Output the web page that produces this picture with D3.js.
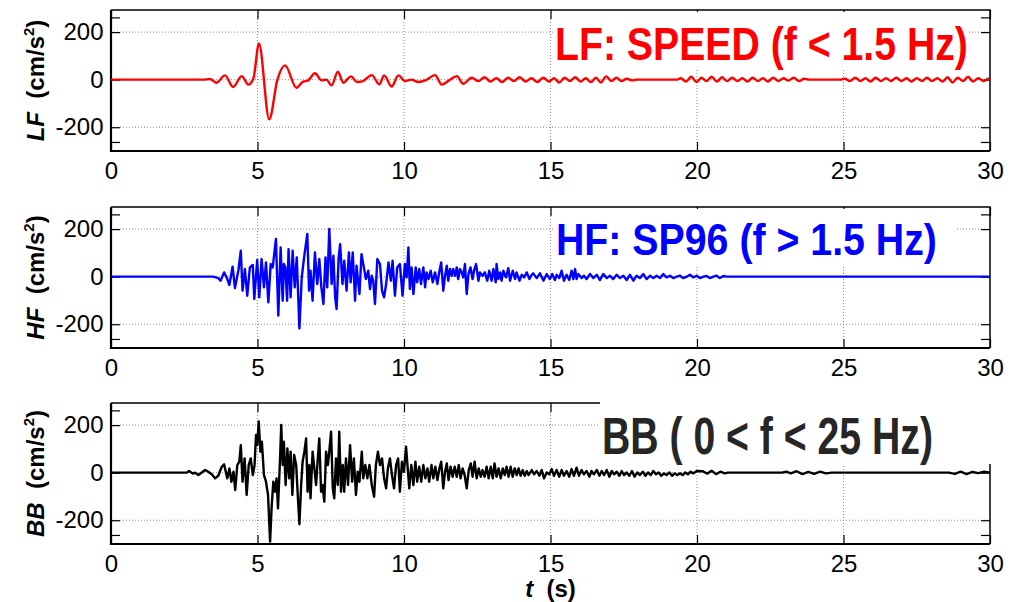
<!DOCTYPE html>
<html>
<head>
<meta charset="utf-8">
<script src="https://cdn.jsdelivr.net/npm/d3@7"></script>
<style>
  html, body { margin: 0; padding: 0; background: #fff; }
  svg { display: block; font-family: "Liberation Sans", Arial, sans-serif; }
  .lbl { white-space: pre; }
</style>
</head>
<body>
<svg id="chart" width="1016" height="602"></svg>
<script>
// ---- axis ticks ----
const xTicks = [0, 5, 10, 15, 20, 25, 30];
const yTicks = [-200, 0, 200];
const yEdgeTicks = [-262, 262];   // unlabelled ticks near the axis limits
const yDomain = [-300, 293];

// ---- panel labels ----
const panelKeys = ["LF", "HF", "BB"];
const panelTitles = ["LF: SPEED (f < 1.5 Hz)", "HF: SP96 (f > 1.5 Hz)", "BB ( 0 < f < 25 Hz)"];
const axisUnit = "(cm/s";
const xLabelUnit = "(s)";

// ---- acceleration traces: [time (s), acceleration (cm/s^2)] ----
const lfTrace = [
  [0,0],[3.15,0],[3.38,3],[3.6,-13],[3.89,18],[4.17,-31],[4.46,15],[4.69,-21],[4.86,5],
  [5.05,152],[5.4,-167],[5.68,0],[5.94,60],[6.33,-34],[6.56,-8],[6.72,-4],[6.96,27],[7.19,-3],
  [7.35,0],[7.53,-24],[7.74,34],[7.93,-13],[8.19,14],[8.39,-10],[8.6,-6],[8.9,19],[9.16,-20],
  [9.32,18],[9.58,-29],[9.81,18],[10.03,-6],[10.25,0],[10.49,-10],[10.75,-2],[11.06,19],
  [11.29,-21],[11.55,-2],[11.8,15],[12.02,-17],[12.31,8],[12.54,-6],[12.75,10],[12.95,-8],
  [13.15,6],[13.35,-10],[13.55,8],[13.75,-6],[13.95,10],[14.15,-8],[14.35,6],[14.55,-10],
  [14.75,8],[14.95,-8],[15.12,6],[15.3,-12],[15.48,8],[15.66,-6],[15.85,10],[16.03,-8],
  [16.2,6],[16.38,-10],[16.55,8],[16.72,-12],[16.9,14],[17.08,-6],[17.25,8],[17.42,-6],
  [17.6,4],[17.8,-3],[17.95,0],[19.3,0],[19.45,6],[19.62,-8],[19.8,12],[19.98,-10],[20.15,8],
  [20.32,-6],[20.5,12],[20.68,-8],[20.85,10],[21.03,-6],[21.2,8],[21.38,-6],[21.55,6],
  [21.72,-8],[21.9,8],[22.08,-6],[22.25,6],[22.42,-8],[22.6,8],[22.78,-6],[22.95,6],
  [23.12,-4],[23.3,8],[23.48,-6],[23.65,4],[23.82,0],[24.9,0],[25.05,4],[25.22,-6],[25.4,8],
  [25.58,-6],[25.75,6],[25.92,-8],[26.1,8],[26.28,-6],[26.45,6],[26.62,-6],[26.8,8],
  [26.98,-6],[27.15,6],[27.32,-8],[27.5,6],[27.68,-6],[27.85,8],[28.02,-6],[28.2,6],
  [28.38,-8],[28.55,10],[28.72,-12],[28.9,8],[29.08,-6],[29.25,12],[29.42,-8],[29.6,6],
  [29.78,-6],[29.95,4],[30,0]
];

const hfTrace = [
  [0,0],[3.49,0],[3.66,-6],[3.74,-17],[3.86,18],[3.97,-10],[4.04,-35],[4.15,42],[4.23,-48],
  [4.35,28],[4.43,109],[4.49,-59],[4.57,32],[4.65,-80],[4.74,39],[4.84,49],[4.89,-94],
  [4.99,70],[5.06,-87],[5.14,74],[5.22,-45],[5.29,60],[5.37,-108],[5.45,53],[5.52,39],
  [5.63,159],[5.71,-164],[5.79,123],[5.86,-101],[5.9,53],[5.95,39],[6.01,-101],[6.06,116],
  [6.13,-87],[6.2,109],[6.27,-45],[6.34,81],[6.43,-218],[6.51,-3],[6.59,81],[6.7,180],
  [6.76,-59],[6.81,25],[6.88,-101],[6.96,102],[7.04,-31],[7.11,74],[7.18,-45],[7.25,-115],
  [7.32,81],[7.38,-45],[7.45,201],[7.53,-31],[7.59,88],[7.65,-87],[7.7,-136],[7.77,81],
  [7.82,137],[7.9,-31],[7.96,67],[8.04,-59],[8.12,102],[8.18,-24],[8.25,102],[8.33,-101],
  [8.38,46],[8.48,-73],[8.55,95],[8.63,39],[8.7,-10],[8.78,25],[8.84,-52],[8.9,4],[8.95,-17],
  [9.01,-115],[9.09,74],[9.18,53],[9.25,-59],[9.32,-87],[9.39,-31],[9.47,60],[9.55,-17],
  [9.61,67],[9.69,-80],[9.77,39],[9.86,53],[9.95,-80],[10.03,53],[10.09,-3],[10.15,123],
  [10.2,-52],[10.26,39],[10.32,-73],[10.4,39],[10.45,-24],[10.52,32],[10.58,-31],[10.66,39],
  [10.72,-45],[10.77,18],[10.84,-10],[10.91,25],[10.98,-24],[11.06,18],[11.14,-31],[11.21,25],
  [11.27,60],[11.34,-59],[11.4,4],[11.46,46],[11.51,-17],[11.57,32],[11.63,4],[11.68,32],
  [11.74,4],[11.8,39],[11.85,-10],[11.91,32],[11.97,18],[12.02,-3],[12.08,53],[12.14,-73],
  [12.2,11],[12.27,39],[12.34,-10],[12.39,25],[12.46,53],[12.54,-17],[12.59,18],[12.68,4],
  [12.76,18],[12.84,-17],[12.91,25],[12.99,-17],[13.05,32],[13.13,-24],[13.16,53],[13.22,-10],
  [13.28,18],[13.33,-17],[13.39,25],[13.48,-3],[13.56,36],[13.62,-17],[13.71,25],[13.79,-10],
  [13.84,18],[13.94,-17],[14.02,8],[14.1,-3],[14.19,18],[14.28,-10],[14.36,8],[14.41,14],
  [14.53,-6],[14.64,14],[14.76,-17],[14.87,11],[14.98,-10],[15.06,11],[15.15,-14],[15.21,8],
  [15.3,-6],[15.38,25],[15.46,-17],[15.55,8],[15.64,-14],[15.72,25],[15.78,-10],[15.84,32],
  [15.89,-10],[15.95,11],[16.06,-6],[16.14,4],[16.23,-10],[16.35,11],[16.46,-6],[16.58,8],
  [16.69,-14],[16.8,11],[16.92,-6],[17.03,4],[17.14,-10],[17.26,8],[17.37,-6],[17.49,4],
  [17.6,-14],[17.71,8],[17.83,-17],[17.94,4],[18.05,-6],[18.17,11],[18.28,-10],[18.4,4],
  [18.51,-6],[18.62,4],[18.74,-6],[18.85,11],[18.96,-3],[19.08,4],[19.19,-6],[19.31,0],
  [19.42,4],[19.53,-6],[19.65,0],[19.76,8],[19.87,-3],[19.99,4],[20.1,-6],[20.22,0],
  [20.33,3],[20.44,-6],[20.56,0],[20.67,4],[20.78,-6],[20.9,3],[21.01,0],[30,0]
];

const bbTrace = [
  [0,0],[2.58,0],[2.67,7],[2.79,-4],[2.87,0],[2.98,-10],[3.1,1],[3.21,11],[3.32,4],[3.44,-7],
  [3.55,-24],[3.66,-13],[3.78,25],[3.86,35],[3.93,-3],[3.97,-24],[4.04,18],[4.11,-38],[4.18,4],
  [4.24,-73],[4.31,32],[4.38,46],[4.43,116],[4.49,-38],[4.56,60],[4.63,-94],[4.7,32],[4.77,60],
  [4.84,-10],[4.9,32],[4.95,159],[4.99,116],[5.04,215],[5.1,88],[5.15,130],[5.22,-10],
  [5.29,-38],[5.36,-94],[5.43,-290],[5.48,-150],[5.54,-38],[5.6,-80],[5.65,-24],[5.7,-150],
  [5.77,60],[5.81,201],[5.86,32],[5.9,130],[5.96,-52],[6.02,102],[6.08,-24],[6.13,88],
  [6.19,-94],[6.25,74],[6.32,32],[6.38,-108],[6.43,-217],[6.49,-52],[6.54,46],[6.6,88],
  [6.66,144],[6.71,-80],[6.77,32],[6.81,-108],[6.88,88],[6.94,18],[7.0,-52],[7.05,46],
  [7.11,144],[7.17,-80],[7.22,-52],[7.28,-122],[7.34,88],[7.4,32],[7.45,88],[7.51,172],
  [7.57,-66],[7.62,-108],[7.68,60],[7.74,-52],[7.79,172],[7.85,-80],[7.91,32],[7.96,-80],
  [8.02,60],[8.09,-52],[8.16,116],[8.23,-38],[8.29,60],[8.36,-94],[8.42,4],[8.48,-38],
  [8.56,88],[8.61,-24],[8.68,32],[8.75,-24],[8.82,32],[8.9,-52],[8.98,-101],[9.04,32],
  [9.11,88],[9.18,32],[9.25,60],[9.32,-24],[9.39,-66],[9.45,18],[9.52,60],[9.59,-10],
  [9.66,-66],[9.73,32],[9.8,60],[9.86,-80],[9.93,46],[10.0,4],[10.07,109],[10.18,-66],
  [10.25,32],[10.32,-52],[10.39,46],[10.45,-38],[10.52,25],[10.59,-38],[10.66,32],[10.73,-24],
  [10.8,18],[10.86,-38],[10.94,32],[11.0,-24],[11.07,25],[11.14,-31],[11.21,18],[11.27,46],
  [11.34,-66],[11.4,4],[11.46,39],[11.52,-31],[11.59,25],[11.66,-17],[11.73,25],[11.8,-17],
  [11.87,32],[11.93,-24],[12.0,18],[12.07,-10],[12.14,-66],[12.21,11],[12.28,39],[12.34,-17],
  [12.41,46],[12.48,-24],[12.55,18],[12.62,-17],[12.68,11],[12.75,-17],[12.82,25],[12.89,-24],
  [12.96,25],[13.03,-24],[13.09,39],[13.16,-17],[13.23,18],[13.3,-24],[13.37,18],[13.44,-10],
  [13.5,25],[13.57,-17],[13.64,25],[13.71,-17],[13.78,18],[13.85,-10],[13.91,18],[13.98,-13],
  [14.05,11],[14.12,-13],[14.19,7],[14.25,-10],[14.36,11],[14.44,-7],[14.53,7],[14.62,-13],
  [14.7,11],[14.78,-24],[14.87,1],[14.96,-7],[15.04,15],[15.12,-13],[15.21,11],[15.3,-17],
  [15.38,11],[15.46,-13],[15.55,7],[15.64,-17],[15.72,15],[15.8,-13],[15.89,21],[15.97,-13],
  [16.06,11],[16.14,-7],[16.23,7],[16.33,-17],[16.4,7],[16.48,-7],[16.58,11],[16.67,-13],
  [16.75,7],[16.83,-10],[16.92,11],[17.01,-17],[17.09,7],[17.17,-7],[17.26,4],[17.35,-13],
  [17.43,7],[17.51,-10],[17.6,1],[17.69,-13],[17.78,7],[17.87,-17],[17.96,1],[18.05,-10],
  [18.15,4],[18.24,-13],[18.33,1],[18.42,-10],[18.51,7],[18.6,-7],[18.69,1],[18.78,-13],
  [18.87,-3],[18.96,-10],[19.06,1],[19.15,-13],[19.24,-3],[19.33,-10],[19.42,-3],[19.51,-10],
  [19.6,1],[19.69,-7],[19.78,4],[19.87,-3],[19.99,7],[20.2,6],[20.35,-4],[20.5,8],[20.65,-6],
  [20.8,4],[20.95,-3],[21.05,0],[22.9,0],[23.05,4],[23.2,-3],[23.4,6],[23.6,-6],[23.8,3],
  [24.0,-5],[24.2,4],[24.4,-3],[24.6,0],[28.6,0],[28.8,-5],[29.0,4],[29.2,-6],[29.4,3],
  [29.6,-2],[29.8,4],[30,0]
];

const traces = [lfTrace, hfTrace, bbTrace];

// ---- layout ----
const plotLeft = 111, plotRight = 990;
const panelTops = [10, 207, 403];
const panelH = 141;
const tickLen = 9;

const panelStyle = [
  { color: "#ff0000", curve: d3.curveMonotoneX, titleColor: "#ff0000",
    box: [553, 12, 968, 70], titleX: 555, titleBase: 60, titleLen: 413, titleSize: 46 },
  { color: "#0000ff", curve: d3.curveLinear, titleColor: "#0000ff",
    box: [555, 209, 957, 265], titleX: 556, titleBase: 255, titleLen: 381, titleSize: 45 },
  { color: "#000000", curve: d3.curveLinear, titleColor: "#262626",
    box: [600, 394, 1002, 464], titleX: 602, titleBase: 454, titleLen: 331, titleSize: 52 }
];

const svg = d3.select("#chart");
const x = d3.scaleLinear().domain([0, 30]).range([plotLeft, plotRight]);

svg.append("defs").selectAll("clipPath")
  .data(panelTops).join("clipPath")
  .attr("id", (d, i) => "clip" + i)
  .append("rect")
  .attr("x", plotLeft).attr("y", d => d)
  .attr("width", plotRight - plotLeft).attr("height", panelH);

panelTops.forEach((top, i) => {
  const st = panelStyle[i];
  const bottom = top + panelH;
  const y = d3.scaleLinear().domain(yDomain).range([bottom, top]);
  const g = svg.append("g");

  // dotted grid
  const grid = g.append("g").attr("stroke", "#8c8c8c").attr("stroke-width", 1)
    .attr("stroke-dasharray", "1,2");
  grid.selectAll("line.gx").data(xTicks.slice(1, -1)).join("line")
    .attr("x1", d => x(d)).attr("x2", d => x(d))
    .attr("y1", top).attr("y2", bottom);
  grid.selectAll("line.gy").data(yTicks).join("line")
    .attr("x1", plotLeft).attr("x2", plotRight)
    .attr("y1", d => y(d)).attr("y2", d => y(d));

  // axes with inward ticks
  const fmtY = d => (yTicks.includes(d) ? String(d) : "");
  const axB = g.append("g").attr("transform", `translate(0,${bottom})`)
    .call(d3.axisBottom(x).tickValues(xTicks).tickSizeInner(-tickLen).tickSizeOuter(0).tickPadding(10.5));
  const axT = g.append("g").attr("transform", `translate(0,${top})`)
    .call(d3.axisTop(x).tickValues(xTicks).tickSizeInner(-tickLen).tickSizeOuter(0).tickFormat(""));
  const axL = g.append("g").attr("transform", `translate(${plotLeft},0)`)
    .call(d3.axisLeft(y).tickValues(yTicks.concat(yEdgeTicks)).tickSizeInner(-tickLen).tickSizeOuter(0)
      .tickPadding(7.5).tickFormat(fmtY));
  const axR = g.append("g").attr("transform", `translate(${plotRight},0)`)
    .call(d3.axisRight(y).tickValues(yTicks.concat(yEdgeTicks)).tickSizeInner(-tickLen).tickSizeOuter(0)
      .tickFormat(""));
  [axB, axT, axL, axR].forEach(a => {
    a.select(".domain").remove();
    a.selectAll("line").attr("stroke", "#000").attr("stroke-width", 1.2);
    a.selectAll("text").attr("font-size", 24).attr("fill", "#000")
      .attr("font-family", "'Liberation Sans', Arial, sans-serif");
  });

  // frame
  g.append("path")
    .attr("d", `M${plotLeft},${top}H${plotRight}V${bottom}`)
    .attr("fill", "none").attr("stroke", "#000").attr("stroke-width", 1.5);
  g.append("path")
    .attr("d", `M${plotLeft},${top}V${bottom}H${plotRight}`)
    .attr("fill", "none").attr("stroke", "#000").attr("stroke-width", 2.2);

  // trace
  const line = d3.line().x(d => x(d[0])).y(d => y(d[1])).curve(st.curve);
  g.append("path")
    .datum(traces[i])
    .attr("clip-path", `url(#clip${i})`)
    .attr("d", line)
    .attr("fill", "none")
    .attr("stroke", st.color)
    .attr("stroke-width", 2.4)
    .attr("stroke-linejoin", "round")
    .attr("stroke-linecap", "round");

  // panel title on a white backing, squeezed horizontally to a condensed face
  const [bx0, by0, bx1, by1] = st.box;
  g.append("rect").attr("x", bx0).attr("y", by0)
    .attr("width", bx1 - bx0).attr("height", by1 - by0).attr("fill", "#fff");
  const title = g.append("text")
    .attr("class", "lbl")
    .attr("x", 0).attr("y", 0)
    .attr("font-size", st.titleSize).attr("font-weight", "bold")
    .attr("font-family", "'Liberation Sans', Arial, sans-serif")
    .attr("fill", st.titleColor)
    .text(panelTitles[i]);
  const natural = title.node().getComputedTextLength();
  title.attr("transform", `translate(${st.titleX},${st.titleBase}) scale(${st.titleLen / natural},1)`);

  // y-axis label
  const yl = svg.append("text")
    .attr("class", "lbl")
    .attr("transform", `translate(44,${top + panelH / 2}) rotate(-90)`)
    .attr("text-anchor", "middle")
    .attr("font-size", 24).attr("font-weight", "bold").attr("fill", "#000");
  yl.append("tspan").attr("font-style", "italic").text(panelKeys[i]);
  yl.append("tspan").text("  " + axisUnit);
  yl.append("tspan").attr("font-size", 15).attr("dy", -10).text("2");
  yl.append("tspan").attr("dy", 10).text(")");
});

// x-axis label
const xl = svg.append("text")
  .attr("class", "lbl")
  .attr("x", (plotLeft + plotRight) / 2).attr("y", 597)
  .attr("text-anchor", "middle")
  .attr("font-size", 24).attr("font-weight", "bold").attr("fill", "#000");
xl.append("tspan").attr("font-style", "italic").text("t");
xl.append("tspan").text("  " + xLabelUnit);
</script>
</body>
</html>
